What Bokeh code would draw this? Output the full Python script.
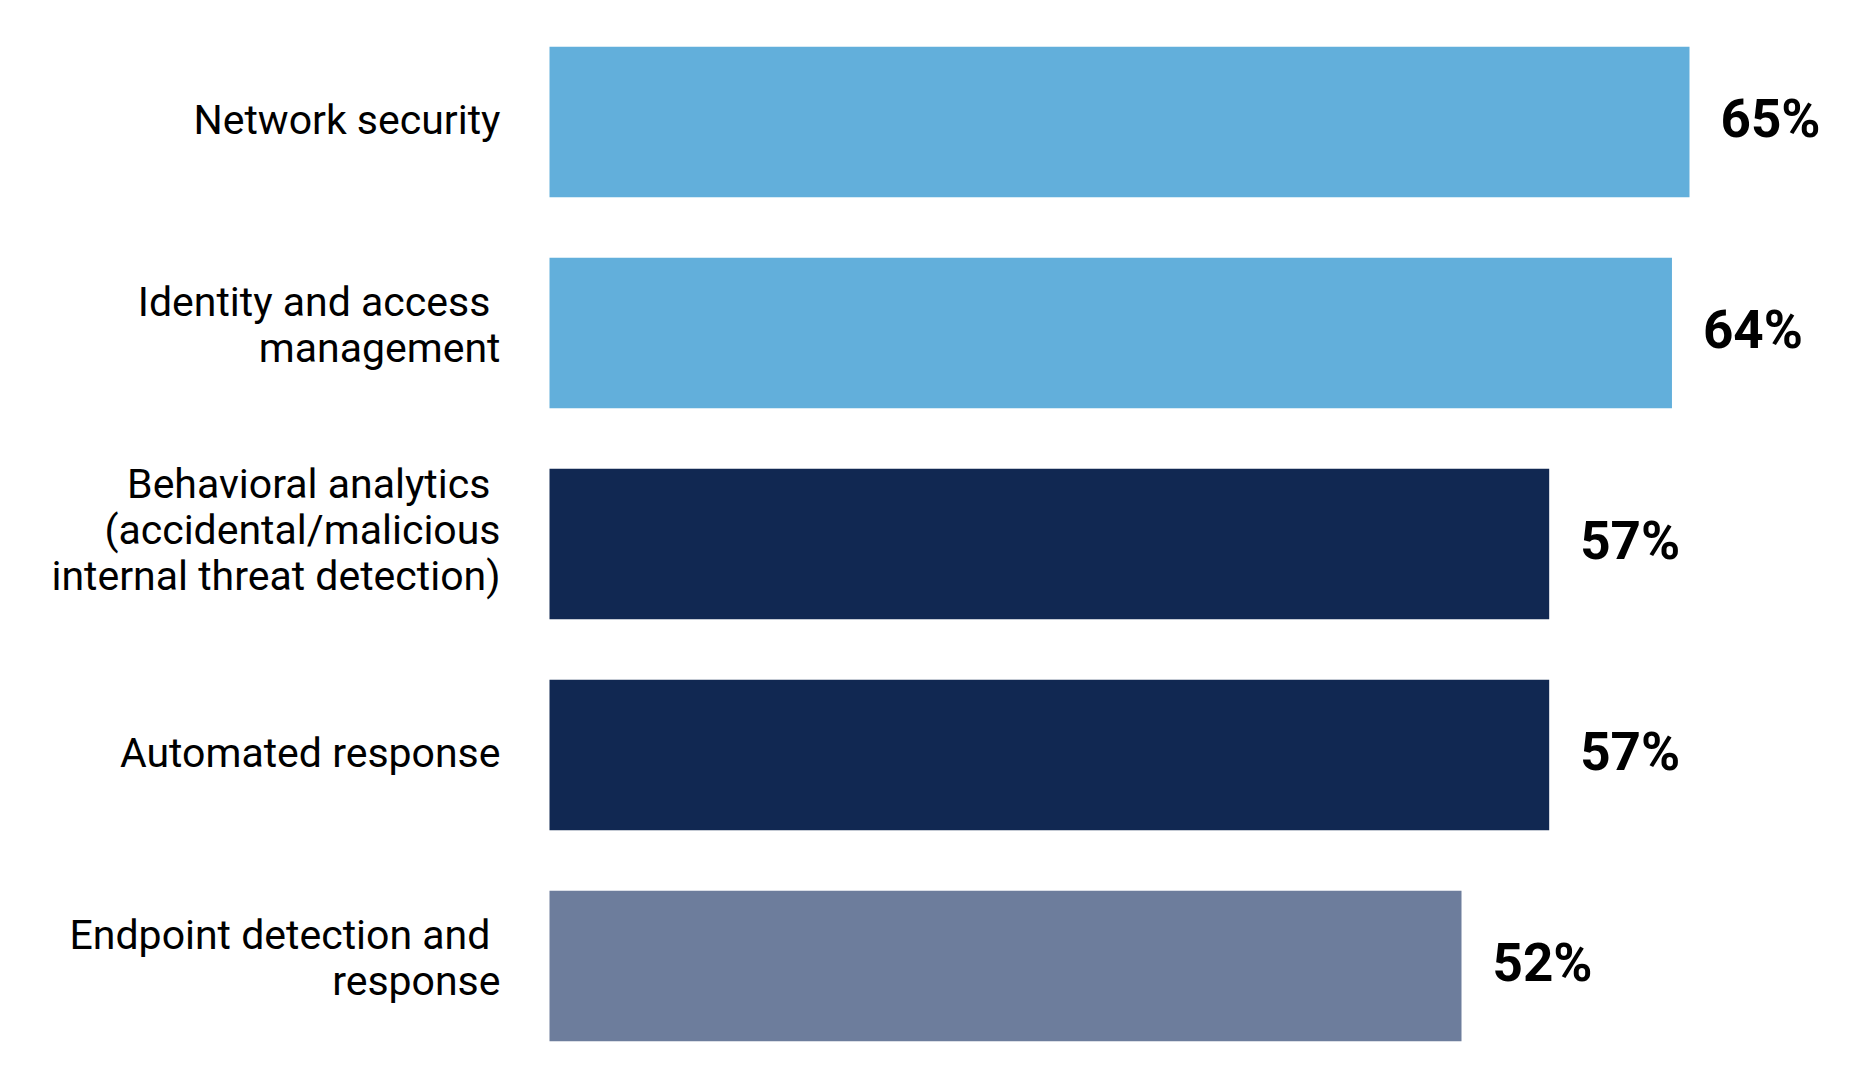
from bokeh.plotting import figure
from bokeh.models import ColumnDataSource, Range1d
from bokeh.core.properties import value
from bokeh.embed import file_html
from bokeh.resources import INLINE

# ---- data ----
categories = [
    "Network security",
    "Identity and access \nmanagement",
    "Behavioral analytics \n(accidental/malicious\ninternal threat detection)",
    "Automated response",
    "Endpoint detection and \nresponse",
]
values = [65, 64, 57, 57, 52]
value_labels = ["65%", "64%", "57%", "57%", "52%"]
bar_colors = ["#62AFDB", "#62AFDB", "#112852", "#112852", "#6D7D9C"]

W, H = 1874, 1092
left_px = 549.0            # screen x of the zero line
px_per_unit = (1689.0 - 549.0) / 65.0
top_center = 121.5
pitch = 211.0

idx = list(range(len(categories)))
line_counts = [c.count("\n") for c in categories]
label_offsets = [-6 * n - 2 for n in line_counts]

src = ColumnDataSource(dict(
    y=idx, v=values, cat=categories, lab=value_labels, col=bar_colors,
    loff=label_offsets,
))

p = figure(width=W, height=H, output_backend="svg", toolbar_location=None,
           min_border=0, min_border_left=0, min_border_right=0,
           min_border_top=0, min_border_bottom=0,
           x_range=Range1d(-left_px / px_per_unit, (W - left_px) / px_per_unit),
           y_range=Range1d((H - top_center) / pitch, -top_center / pitch))
p.axis.visible = False
p.grid.visible = False
p.outline_line_color = None
p.background_fill_color = "white"
p.border_fill_color = "white"

p.hbar(y="y", right="v", left=0, height=150.5 / pitch, fill_color="col",
       line_color=None, source=src)

p.text(x=0, y="y", text="cat", source=src, x_offset=-49, y_offset="loff",
       text_align="right", text_baseline="middle",
       text_font=value("Roboto"), text_font_size="41px", text_color="#000000",
       text_line_height=0.95)

p.text(x="v", y="y", text="lab", source=src, x_offset=31, y_offset=-3,
       text_align="left", text_baseline="middle",
       text_font=value("Roboto"), text_font_style="bold",
       text_font_size="53px", text_color="#000000")

open("out.html", "w").write(file_html(p, INLINE))
